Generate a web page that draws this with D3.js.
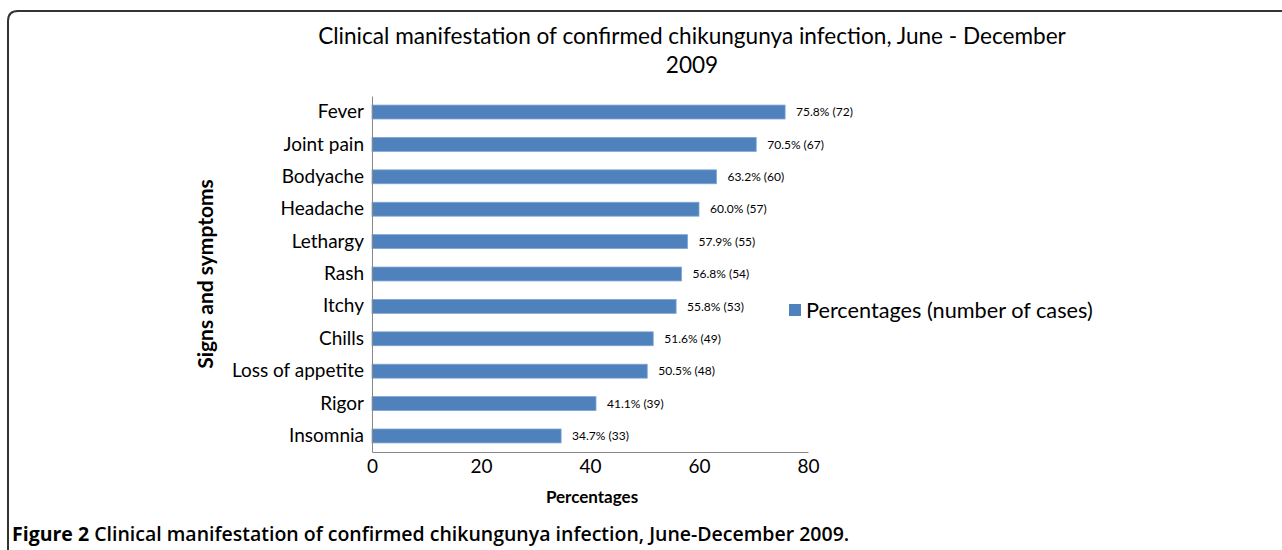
<!DOCTYPE html>
<html>
<head>
<meta charset="utf-8">
<script src="https://cdn.jsdelivr.net/npm/d3@7"></script>
<style>
  body { margin: 0; background: #fff; }
  svg text { font-family: Lato, "Open Sans", sans-serif; fill: #000; }
</style>
</head>
<body>
<svg class="chart" width="1282" height="550"></svg>
<script>
var categories = ["Fever", "Joint pain", "Bodyache", "Headache", "Lethargy", "Rash",
                  "Itchy", "Chills", "Loss of appetite", "Rigor", "Insomnia"];
var percents = [75.8, 70.5, 63.2, 60.0, 57.9, 56.8, 55.8, 51.6, 50.5, 41.1, 34.7];
var cases = [72, 67, 60, 57, 55, 54, 53, 49, 48, 39, 33];
var xTicks = [0, 20, 40, 60, 80];

var data = categories.map(function(c, i) {
  return {name: c, pct: percents[i], n: cases[i]};
});

var margin = {top: 96, left: 372},
    width = 436,
    height = 356;

var svg = d3.select(".chart");

// frame
svg.append("path")
    .attr("d", "M8,560 L8,21 Q8,11 18,11 L1290,11")
    .attr("fill", "none")
    .attr("stroke", "#333")
    .attr("stroke-width", 2);

var x = d3.scaleLinear().domain([0, 80]).range([0, width]);
var y = d3.scaleBand().domain(categories).range([0, height]).paddingInner(0.57).paddingOuter(0.28);

var chart = svg.append("g")
    .attr("transform", "translate(" + margin.left + "," + margin.top + ")");

chart.selectAll(".bar")
    .data(data)
  .enter().append("rect")
    .attr("class", "bar")
    .attr("x", 0)
    .attr("y", function(d) { return y(d.name); })
    .attr("width", function(d) { return x(d.pct); })
    .attr("height", y.bandwidth())
    .attr("fill", "#4f81bd")
    .attr("stroke", "#7fa6d6")
    .attr("stroke-width", 0.8);

chart.selectAll(".val")
    .data(data)
  .enter().append("text")
    .attr("class", "val")
    .attr("x", function(d) { return x(d.pct) + 11; })
    .attr("y", function(d) { return y(d.name) + y.bandwidth() / 2; })
    .attr("dy", "0.35em")
    .style("font-size", "12px")
    .text(function(d) { return d.pct.toFixed(1) + "% (" + d.n + ")"; });

var xAxis = d3.axisBottom(x).tickValues(xTicks).tickSize(0).tickPadding(8);
var yAxis = d3.axisLeft(y).tickSize(0).tickPadding(8);

var gx = chart.append("g")
    .attr("class", "x axis")
    .attr("transform", "translate(0," + height + ")")
    .call(xAxis);
gx.select(".domain").attr("stroke", "#888");
gx.selectAll("text").style("font-size", "19px").attr("fill", "#000");

var gy = chart.append("g")
    .attr("class", "y axis")
    .call(yAxis);
gy.select(".domain").attr("stroke", "#888");
gy.selectAll("text").style("font-size", "19px").attr("fill", "#000");

// axis titles
chart.append("text")
    .attr("x", width / 2 + 2)
    .attr("y", height + 51)
    .style("text-anchor", "middle")
    .style("font-size", "17px")
    .style("font-weight", "bold")
    .text("Percentages");

chart.append("text")
    .attr("transform", "rotate(-90)")
    .attr("x", -178)
    .attr("y", -159)
    .style("text-anchor", "middle")
    .style("font-size", "21px")
    .style("font-weight", "bold")
    .text("Signs and symptoms");

// title
svg.append("text")
    .attr("x", 692)
    .attr("y", 44)
    .style("text-anchor", "middle")
    .style("font-size", "22.6px")
    .text("Clinical manifestation of confirmed chikungunya infection, June - December");
svg.append("text")
    .attr("x", 692)
    .attr("y", 73)
    .style("text-anchor", "middle")
    .style("font-size", "22.6px")
    .text("2009");

// legend
svg.append("rect")
    .attr("x", 789).attr("y", 304)
    .attr("width", 12).attr("height", 12)
    .attr("fill", "#4f81bd");
svg.append("text")
    .attr("x", 806).attr("y", 318)
    .style("font-size", "21.7px")
    .text("Percentages (number of cases)");

// caption
var cap = svg.append("text")
    .attr("x", 12).attr("y", 541)
    .style("font-family", "'Open Sans', sans-serif")
    .style("font-size", "19.5px")
    .style("font-weight", "bold")
    .attr("fill", "#231f20");
cap.append("tspan").text("Figure 2 ");
cap.append("tspan").style("font-weight", "600")
    .text("Clinical manifestation of confirmed chikungunya infection, June-December 2009.");
</script>
</body>
</html>
